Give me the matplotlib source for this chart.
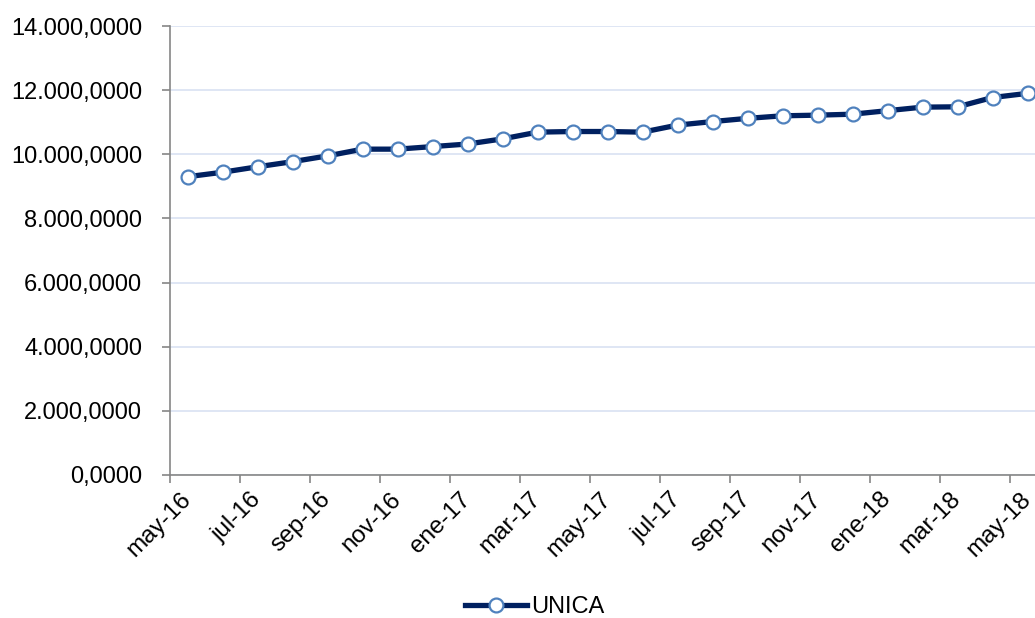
import matplotlib.pyplot as plt
from matplotlib.ticker import FuncFormatter

plt.rcParams['font.family'] = ['Liberation Sans', 'DejaVu Sans']

# monthly values, may-16 .. may-18
meses = ['may-16', 'jun-16', 'jul-16', 'ago-16', 'sep-16', 'oct-16', 'nov-16', 'dic-16',
         'ene-17', 'feb-17', 'mar-17', 'abr-17', 'may-17', 'jun-17', 'jul-17', 'ago-17',
         'sep-17', 'oct-17', 'nov-17', 'dic-17', 'ene-18', 'feb-18', 'mar-18', 'abr-18',
         'may-18']
unica = [9300, 9440, 9610, 9770, 9950, 10160, 10160, 10240,
         10320, 10480, 10690, 10710, 10710, 10690, 10910, 11020,
         11120, 11200, 11220, 11250, 11360, 11470, 11480, 11770,
         11900]
etiquetas = meses[::2]
y_ticks = [0, 2000, 4000, 6000, 8000, 10000, 12000, 14000]

fig = plt.figure(figsize=(10.35, 6.18), dpi=100)
ax = fig.add_axes([170/1035, 143/618, 875/1035, 449/618])

x = list(range(len(unica)))
ax.plot(x, unica, color='#002060', lw=3.8, marker='o', ms=10,
        mfc='white', mec='#4f81bd', mew=1.6, label='UNICA', zorder=3)

ax.set_xlim(-0.5, len(unica) - 0.5)
ax.set_ylim(0, 14000)
ax.set_yticks(y_ticks)

def fmt(v, pos):
    s = f'{v:,.4f}'
    return s.replace(',', 'X').replace('.', ',').replace('X', '.')
ax.yaxis.set_major_formatter(FuncFormatter(fmt))

# ticks at month boundaries, labels drawn a little to the right (as in Excel)
pos = [i - 0.5 for i in range(0, len(unica), 2)]
ax.set_xticks(pos)
ax.set_xticklabels([])
ax.set_xticks([p + 0.5 for p in pos], etiquetas, minor=True)
for lab in ax.get_xticklabels(minor=True):
    lab.set_rotation(45)
    lab.set_ha('right')
    lab.set_va('center')
    lab.set_rotation_mode('anchor')

ax.grid(axis='y', color='#d9e1f2', lw=1.2)
ax.set_axisbelow(True)
for s in ['top', 'right']:
    ax.spines[s].set_visible(False)
for s in ['left', 'bottom']:
    ax.spines[s].set_color('#868686')
    ax.spines[s].set_linewidth(1.2)
ax.tick_params(axis='y', length=6, width=1.2, color='#868686', pad=14,
               labelsize=17, labelcolor='black')
ax.tick_params(axis='x', which='major', length=6, width=1.2, color='#868686')
ax.tick_params(axis='x', which='minor', length=0, pad=15,
               labelsize=17.5, labelcolor='black')

fig.legend(loc='lower center', bbox_to_anchor=(0.517, -0.035), frameon=False,
           fontsize=17, handlelength=2.6, handletextpad=0.2)

fig.savefig('out.png', dpi=100)
